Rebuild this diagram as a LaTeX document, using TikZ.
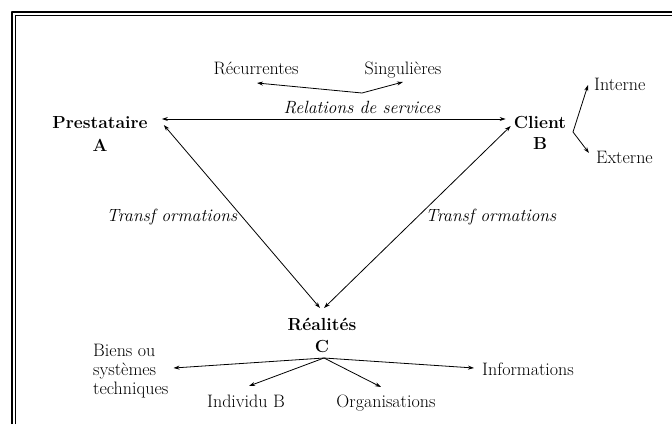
\documentclass[tikz,border=0pt]{standalone}
\usepackage{tikz}
\usetikzlibrary{arrows.meta}

\begin{document}
\begin{tikzpicture}[
        line join=bevel,
        pole/.style={font=\fontsize{17.5}{19}\selectfont\bfseries, inner sep=0pt, anchor=base},
        item/.style={font=\fontsize{18}{19}\selectfont, inner sep=0pt},
        flow/.style={font=\fontsize{17.7}{19}\selectfont\itshape, inner sep=0pt, anchor=base},
        link/.style={-{Stealth[length=6pt, width=4pt]}, line width=0.8pt},
        biglink/.style={{Stealth[length=6pt, width=4pt]}-{Stealth[length=6pt, width=4pt]}, line width=0.8pt}
        ]
    \useasboundingbox (0pt, 0pt) rectangle (672pt, 424pt);

    %% Frame
    \draw[line width=2pt] (12pt, 0pt) -- (12pt, 412pt) -- (672pt, 412pt);
    \draw[line width=1.2pt] (15.5pt, 0pt) -- (15.5pt, 408.5pt) -- (672pt, 408.5pt);

    %% Poles
    \node[pole] (prest) at (100pt, 295pt) {Prestataire};
    \node[pole] (prestA) at (100pt, 273pt) {A};
    \node[pole] (client) at (540pt, 296pt) {Client};
    \node[pole] (clientB) at (540pt, 275pt) {B};
    \node[pole] (real) at (322pt, 94pt) {Réalités};
    \node[pole] (realC) at (322pt, 72pt) {C};

    %% Labels
    \node[flow] (rel) at (362pt, 311pt) {Relations de services};
    \node[flow] (trL) at (172pt, 203pt) {Transf ormations};
    \node[flow] (trR) at (491pt, 203pt) {Transf ormations};

    \node[item, anchor=base] (recur) at (256pt, 349pt) {Récurrentes};
    \node[item, anchor=base] (sing) at (403pt, 349pt) {Singulières};
    \node[item, anchor=base west] (interne) at (594pt, 334pt) {Interne};
    \node[item, anchor=base west] (externe) at (596pt, 261pt) {Externe};
    \node[item, anchor=west, align=left] (biens) at (93pt, 53pt) {Biens ou\\systèmes\\techniques};
    \node[item, anchor=base west] (info) at (482pt, 49pt) {Informations};
    \node[item, anchor=base] (indiv) at (246pt, 17pt) {Individu B};
    \node[item, anchor=base] (orga) at (386pt, 17pt) {Organisations};

    %% Branch points
    \coordinate (relpt) at (362pt, 331pt);
    \coordinate (cbr) at (573pt, 292pt);
    \coordinate (rbr) at (324pt, 66pt);

    %% Triangle
    \draw[biglink] ([shift={(14pt, 10pt)}]prest.base east) -- ([shift={(-8pt, 9pt)}]client.base west);
    \draw[biglink] ([shift={(16pt, 4pt)}]prest.base east) -- ([shift={(-2pt, 22pt)}]real.base);
    \draw[biglink] ([shift={(-3pt, 2pt)}]client.base west) -- ([shift={(2pt, 22pt)}]real.base);

    %% Branches
    \draw[link] (relpt) -- ([shift={(1pt, -8pt)}]recur.base);
    \draw[link] (relpt) -- ([shift={(0pt, -7pt)}]sing.base);
    \draw[link] (cbr) -- ([shift={(-6pt, 5pt)}]interne.base west);
    \draw[link] (cbr) -- ([shift={(-7pt, 10pt)}]externe.base west);
    \draw[link] (rbr) -- ([shift={(5pt, 3pt)}]biens.east);
    \draw[link] (rbr) -- ([shift={(3pt, 21pt)}]indiv.base);
    \draw[link] (rbr) -- ([shift={(-5pt, 20pt)}]orga.base);
    \draw[link] (rbr) -- ([shift={(-8pt, 7pt)}]info.base west);
\end{tikzpicture}
\end{document}
